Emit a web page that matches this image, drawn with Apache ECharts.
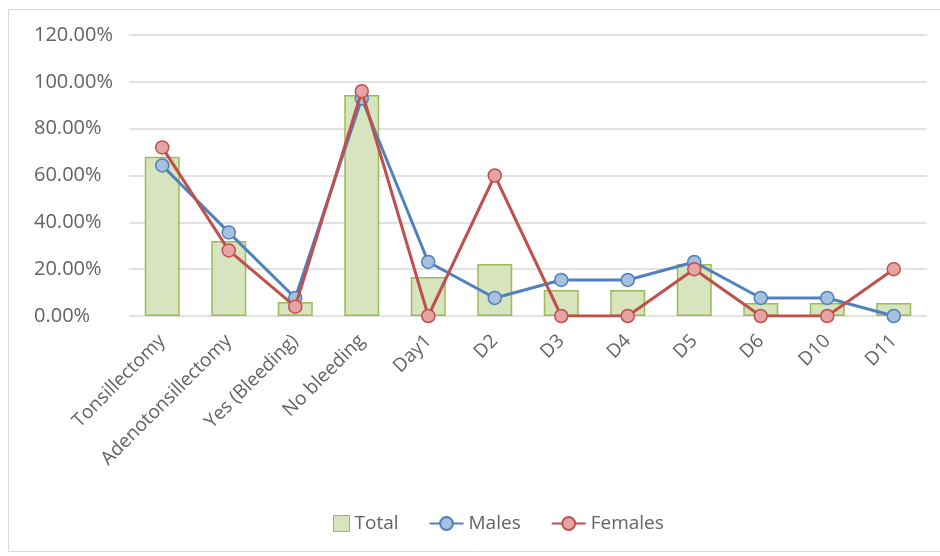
<!DOCTYPE html>
<html>
<head>
<meta charset="utf-8">
<script src="https://cdn.jsdelivr.net/npm/echarts@6/dist/echarts.min.js"></script>
<style>
  html, body { margin: 0; padding: 0; background: #fff; }
  #chart { width: 940px; height: 556px; }
</style>
</head>
<body>
<div id="chart"></div>
<script>
// Post-operative bleeding breakdown (percent of group)
const categories = ['Tonsillectomy', 'Adenotonsillectomy', 'Yes (Bleeding)', 'No bleeding',
  'Day1', 'D2', 'D3', 'D4', 'D5', 'D6', 'D10', 'D11'];
const totalValues   = [68, 32, 6, 94.4, 16.67, 22.22, 11.11, 11.11, 22.22, 5.56, 5.56, 5.56];
const malesValues   = [64.29, 35.71, 7.69, 92.86, 23.08, 7.69, 15.38, 15.38, 23.08, 7.69, 7.69, 0];
const femalesValues = [72, 28, 4, 96, 0, 60, 0, 0, 20, 0, 0, 20];
const yTicks = [0, 20, 40, 60, 80, 100, 120];

const FONT = '"Open Sans", "Noto Sans", sans-serif';
const TEXT = '#636363';

// square swatch placed at the right of a 34x16 legend box
const squareIcon = 'path://M0,8h0.01M18,0h16v16h-16z';

const chart = echarts.init(document.getElementById('chart'), null, { renderer: 'canvas' });

chart.setOption({
  animation: false,
  backgroundColor: '#ffffff',
  graphic: [{
    type: 'rect',
    shape: { x: 8.5, y: 9.5, width: 940, height: 542 },
    style: { fill: 'none', stroke: '#d9d9d9', lineWidth: 1 },
    silent: true, z: -1
  }],
  grid: { left: 129, right: 13, top: 35, bottom: 240 },
  legend: {
    top: 509,
    left: 310,
    itemGap: 30,
    itemWidth: 34,
    itemHeight: 16,
    textStyle: { color: TEXT, fontSize: 19, fontFamily: FONT },
    data: [
      { name: 'Total', icon: squareIcon, itemStyle: { color: '#d7e4bd', borderColor: '#9bbb59', borderWidth: 1 } },
      { name: 'Males' },
      { name: 'Females' }
    ]
  },
  xAxis: {
    type: 'category',
    data: categories,
    axisLine: { show: false },
    axisTick: { show: false },
    axisLabel: {
      interval: 0,
      rotate: 45,
      margin: 22,
      color: TEXT,
      fontSize: 19,
      fontFamily: FONT
    }
  },
  yAxis: {
    type: 'value',
    min: yTicks[0],
    max: yTicks[yTicks.length - 1],
    interval: 20,
    axisLine: { show: false },
    axisTick: { show: false },
    splitLine: { lineStyle: { color: '#d9d9d9', width: 1.5 } },
    axisLabel: {
      align: 'left',
      margin: 95,
      color: TEXT,
      fontSize: 20,
      fontFamily: FONT,
      formatter: v => v.toFixed(2) + '%'
    }
  },
  series: [
    {
      name: 'Total',
      type: 'bar',
      data: totalValues,
      barWidth: 35,
      itemStyle: { color: '#d7e4bd', borderColor: '#9bbb59', borderWidth: 1.5 },
      z: 1
    },
    {
      name: 'Males',
      type: 'line',
      data: malesValues,
      symbol: 'circle',
      symbolSize: 13,
      lineStyle: { color: '#4f81bd', width: 3 },
      itemStyle: { color: '#a7c0de', borderColor: '#4f81bd', borderWidth: 1.5 },
      z: 3
    },
    {
      name: 'Females',
      type: 'line',
      data: femalesValues,
      symbol: 'circle',
      symbolSize: 13,
      lineStyle: { color: '#c0504d', width: 3 },
      itemStyle: { color: '#e6a5a4', borderColor: '#c0504d', borderWidth: 1.5 },
      z: 4
    }
  ]
});
</script>
</body>
</html>
